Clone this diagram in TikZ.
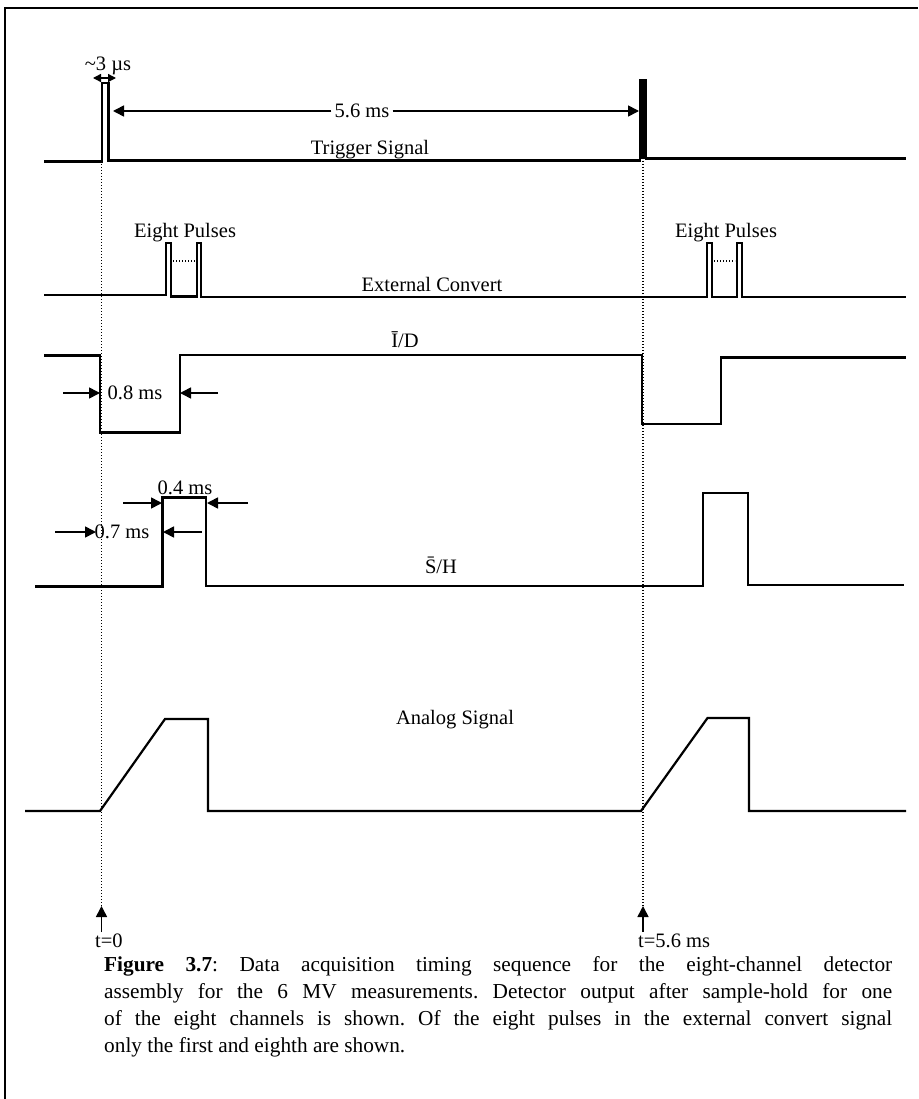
\documentclass[tikz,border=0pt]{standalone}
\usepackage{fontspec}
\setmainfont{Liberation Serif}
\usetikzlibrary{arrows.meta}
\frenchspacing
\begin{document}
\begin{tikzpicture}[x=1pt,y=-1pt,
  sig/.style={line width=2.2pt, line join=miter},
  guide/.style={line width=1.6pt, dash pattern=on 1.4pt off 1.6pt},
  dim/.style={line width=1.6pt, -{Triangle[length=11pt,width=11pt]}},
  lbl/.style={font=\fontsize{20.5}{24}\selectfont, inner sep=1pt},
  captxt/.style={font=\fontsize{21.3}{27}\selectfont, anchor=west, inner sep=0pt}]
\useasboundingbox (0,0) rectangle (918,1099);
\fill[white] (0,0) rectangle (918,1099);
% frame
\draw[line width=1.5pt] (5,1099) -- (5,8) -- (918,8);
% ---------- guides
\coordinate (g0top) at (101.5,83);
\coordinate (g0bot) at (101.5,906);
\coordinate (g1top) at (643,80);
\coordinate (g1bot) at (643,906);
\draw[guide] (g0top) -- (g0bot);
\draw[guide] (g1top) -- (g1bot);
% ---------- trigger
\draw[sig] (44,161.5) -- (102,161.5) -- (102,83) -- (108.5,83) -- (108.5,160.5) -- (640,160.5) -- (640,80) -- (646,80) -- (646,158.5) -- (906,158.5);
\fill (639.5,80) rectangle (646.5,159);
\node[lbl] (trig) at (370,150) {Trigger Signal};
\node[lbl] (tiny) at (108,66) {\textasciitilde3 µs};
\coordinate (ta) at (93,78);
\coordinate (tb) at (116,78);
\draw[line width=1.4pt, {Triangle[length=8pt,width=8pt]}-{Triangle[length=8pt,width=8pt]}] (ta) -- (tb);
\node[lbl, fill=white, inner xsep=3pt] (p56) at (362,111) {5.6 ms};
\coordinate (p56l) at (113,111);
\coordinate (p56r) at (639,111);
\draw[dim] (p56) -- (p56l);
\draw[dim] (p56) -- (p56r);
% ---------- external convert
\draw[sig] (44,295) -- (166,295) -- (166,243) -- (171,243) -- (171,296.5) -- (197,296.5) -- (197,243) -- (201,243) -- (201,297) -- (707,297) -- (707,243) -- (712,243) -- (712,297) -- (737,297) -- (737,243) -- (742,243) -- (742,297) -- (906,297);
\draw[guide, line width=1.3pt] (173,261) -- (195,261);
\draw[guide, line width=1.3pt] (714,261) -- (735,261);
\node[lbl] (ep1) at (185,233) {Eight Pulses};
\node[lbl] (ep2) at (726,233) {Eight Pulses};
\node[lbl] (ext) at (432,284) {External Convert};
% ---------- I/D
\draw[sig] (44,355.5) -- (100,355.5) -- (100,432.5) -- (180,432.5) -- (180,355) -- (642,355) -- (642,424) -- (721,424) -- (721,357.5) -- (906,357.5);
\node[lbl] (id) at (405,340) {\={I}/D};
\node[lbl] (p08) at (135,393) {0.8 ms};
\coordinate (a08l) at (63,393);
\coordinate (a08lt) at (100,393);
\coordinate (a08r) at (218,393);
\coordinate (a08rt) at (180,393);
\draw[dim] (a08l) -- (a08lt);
\draw[dim] (a08r) -- (a08rt);
% ---------- S/H
\draw[sig] (35,586.5) -- (162.5,586.5) -- (162.5,497.5) -- (206,497.5) -- (206,586) -- (703,586) -- (703,493) -- (748,493) -- (748,585) -- (904,585);
\node[lbl] (sh) at (441,565) {\={S}/H};
\node[lbl] (p04) at (185,488) {0.4 ms};
\coordinate (a04l) at (123,503);
\coordinate (a04lt) at (162,503);
\coordinate (a04r) at (248,503);
\coordinate (a04rt) at (207,503);
\draw[dim] (a04l) -- (a04lt);
\draw[dim] (a04r) -- (a04rt);
\node[lbl] (p07) at (122,532) {0.7 ms};
\coordinate (a07l) at (55,532);
\coordinate (a07lt) at (96,532);
\coordinate (a07r) at (202,532);
\coordinate (a07rt) at (163,532);
\draw[dim] (a07l) -- (a07lt);
\draw[dim] (a07r) -- (a07rt);
% ---------- analog
\draw[sig] (25,811) -- (100,811) -- (165,719) -- (208,719) -- (208,811) -- (641,811) -- (707.5,718) -- (749,718) -- (749,811) -- (906,811);
\node[lbl] (ana) at (455,720) {Analog Signal};
% ---------- time markers
\coordinate (t0tail) at (101.5,932);
\coordinate (t1tail) at (643,932);
\draw[dim] (t0tail) -- (g0bot);
\draw[dim] (t1tail) -- (g1bot);
\node[lbl, anchor=west] (t0) at (94,941) {t=0};
\node[lbl, anchor=west] (t1) at (637,941) {t=5.6 ms};
% ---------- caption
\node[captxt] (c1) at (104,966) {\makebox[788pt][s]{\textbf{Figure 3.7}: Data acquisition timing sequence for the eight-channel detector}};
\node[captxt] (c2) at (104,993) {\makebox[788pt][s]{assembly for the 6 MV measurements. Detector output after sample-hold for one}};
\node[captxt] (c3) at (104,1020) {\makebox[788pt][s]{of the eight channels is shown. Of the eight pulses in the external convert signal}};
\node[captxt] (c4) at (104,1047) {only the first and eighth are shown.};
\end{tikzpicture}
\end{document}
